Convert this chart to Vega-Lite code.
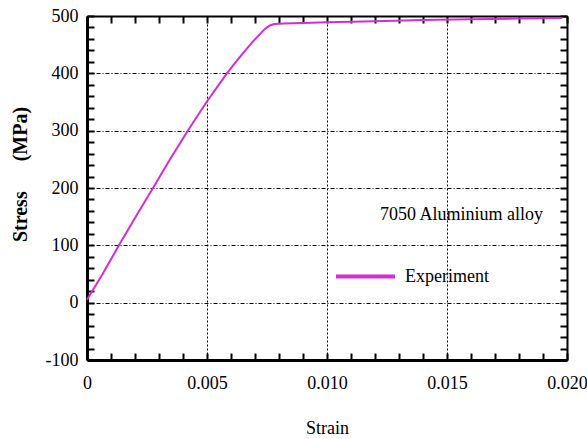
{
  "$schema": "https://vega.github.io/schema/vega-lite/v6.json",
  "width": 480,
  "height": 344,
  "autosize": "none",
  "padding": {"left": 87, "top": 16, "right": 20, "bottom": 79},
  "background": "white",
  "config": {
    "view": {"stroke": null},
    "font": "Liberation Serif",
    "axis": {
      "labelFont": "Liberation Serif",
      "titleFont": "Liberation Serif",
      "labelColor": "black",
      "titleColor": "black",
      "domainColor": "black",
      "gridColor": "black"
    }
  },
  "data": {
    "values": [
      {"strain": 0.0, "stress": 5, "series": "Experiment"},
      {"strain": 0.00065, "stress": 50, "series": "Experiment"},
      {"strain": 0.00133, "stress": 100, "series": "Experiment"},
      {"strain": 0.00203, "stress": 150, "series": "Experiment"},
      {"strain": 0.00275, "stress": 200, "series": "Experiment"},
      {"strain": 0.00346, "stress": 250, "series": "Experiment"},
      {"strain": 0.0042, "stress": 300, "series": "Experiment"},
      {"strain": 0.00498, "stress": 350, "series": "Experiment"},
      {"strain": 0.00583, "stress": 400, "series": "Experiment"},
      {"strain": 0.0063, "stress": 425, "series": "Experiment"},
      {"strain": 0.0066, "stress": 440, "series": "Experiment"},
      {"strain": 0.0069, "stress": 455, "series": "Experiment"},
      {"strain": 0.0072, "stress": 468, "series": "Experiment"},
      {"strain": 0.0074, "stress": 477, "series": "Experiment"},
      {"strain": 0.0076, "stress": 483, "series": "Experiment"},
      {"strain": 0.0078, "stress": 486, "series": "Experiment"},
      {"strain": 0.0082, "stress": 487, "series": "Experiment"},
      {"strain": 0.009, "stress": 488, "series": "Experiment"},
      {"strain": 0.01, "stress": 489, "series": "Experiment"},
      {"strain": 0.012, "stress": 491, "series": "Experiment"},
      {"strain": 0.014, "stress": 493, "series": "Experiment"},
      {"strain": 0.016, "stress": 494.5, "series": "Experiment"},
      {"strain": 0.018, "stress": 495.5, "series": "Experiment"},
      {"strain": 0.0198, "stress": 496.5, "series": "Experiment"}
    ]
  },
  "resolve": {"axis": {"x": "independent", "y": "independent"}},
  "layer": [
    {
      "mark": {"type": "line", "strokeWidth": 2},
      "encoding": {
        "x": {
          "field": "strain",
          "type": "quantitative",
          "scale": {"domain": [0, 0.02], "nice": false, "zero": false},
          "axis": {
            "orient": "bottom",
            "values": [0,0.001,0.002,0.003,0.004,0.005,0.006,0.007,0.008,0.009,0.01,0.011,0.012,0.013,0.014,0.015,0.016,0.017,0.018,0.019,0.02],
            "labelExpr": "abs(datum.value*200 - round(datum.value*200)) < 0.001 ? (datum.value == 0 ? '0' : format(datum.value, '.3f')) : ''",
            "labelOverlap": false,
            "labelFlush": false,
            "labelBound": false,
            "labelFontSize": 18,
            "labelBaseline": "alphabetic",
            "labelPadding": 35,
            "ticks": true,
            "tickSize": -7,
            "tickWidth": 2,
            "tickColor": "black",
            "domainWidth": 3,
            "grid": true,
            "gridDash": [2, 2],
            "gridWidth": 1,
            "gridOpacity": {"condition": {"test": "abs(datum.value*200 - round(datum.value*200)) < 0.001", "value": 1}, "value": 0},
            "title": "Strain",
            "titleFontSize": 18,
            "titleFontWeight": "normal",
            "titleX": 240,
            "titleY": 73,
            "titleBaseline": "alphabetic"
          }
        },
        "y": {
          "field": "stress",
          "type": "quantitative",
          "scale": {"domain": [-100, 500], "nice": false, "zero": false},
          "axis": {
            "orient": "left",
            "values": [-100,-80,-60,-40,-20,0,20,40,60,80,100,120,140,160,180,200,220,240,260,280,300,320,340,360,380,400,420,440,460,480,500],
            "labelExpr": "datum.value % 100 === 0 ? toString(datum.value) : ''",
            "labelOverlap": false,
            "labelFlush": false,
            "labelBound": false,
            "labelFontSize": 18,
            "labelPadding": 16,
            "ticks": true,
            "tickSize": -7,
            "tickWidth": 2,
            "tickColor": "black",
            "domainWidth": 3,
            "grid": true,
            "gridDash": [4, 2, 1, 2],
            "gridWidth": 1,
            "gridOpacity": {"condition": {"test": "datum.value % 100 === 0", "value": 1}, "value": 0},
            "title": "Stress\u00a0\u00a0\u00a0\u00a0\u00a0\u00a0(MPa)",
            "titleFontSize": 20,
            "titleFontWeight": "bold",
            "titleX": -67,
            "titleY": 158,
            "titleAlign": "center",
            "titleBaseline": "middle",
            "titleAngle": -90
          }
        },
        "color": {
          "field": "series",
          "type": "nominal",
          "scale": {"domain": ["Experiment"], "range": ["#d42cd6"]},
          "legend": {
            "orient": "none",
            "legendX": 247,
            "legendY": 229,
            "title": null,
            "padding": 0,
            "symbolType": "stroke",
            "symbolSize": 3481,
            "symbolStrokeWidth": 4,
            "labelFont": "Liberation Serif",
            "labelFontSize": 18,
            "labelColor": "black",
            "labelOffset": 8
          }
        }
      }
    },
    {
      "mark": {"type": "line", "opacity": 0},
      "encoding": {
        "x": {
          "field": "strain",
          "type": "quantitative",
          "axis": {
            "orient": "top",
            "values": [0,0.001,0.002,0.003,0.004,0.005,0.006,0.007,0.008,0.009,0.01,0.011,0.012,0.013,0.014,0.015,0.016,0.017,0.018,0.019,0.02],
            "labels": false,
            "grid": false,
            "ticks": true,
            "tickSize": -7,
            "tickWidth": 2,
            "tickColor": "black",
            "domainWidth": 2,
            "title": null
          }
        },
        "y": {
          "field": "stress",
          "type": "quantitative",
          "axis": {
            "orient": "right",
            "values": [-100,-80,-60,-40,-20,0,20,40,60,80,100,120,140,160,180,200,220,240,260,280,300,320,340,360,380,400,420,440,460,480,500],
            "labels": false,
            "grid": false,
            "ticks": true,
            "tickSize": -7,
            "tickWidth": 2,
            "tickColor": "black",
            "domainWidth": 2,
            "title": null
          }
        }
      }
    },
    {
      "data": {"values": [{"label": "7050 Aluminium alloy", "strain": 0.0156, "stress": 144}]},
      "mark": {"type": "text", "font": "Liberation Serif", "fontSize": 18, "align": "center", "baseline": "alphabetic", "color": "black"},
      "encoding": {
        "x": {"field": "strain", "type": "quantitative", "axis": null},
        "y": {"field": "stress", "type": "quantitative", "axis": null},
        "text": {"field": "label"}
      }
    }
  ]
}
